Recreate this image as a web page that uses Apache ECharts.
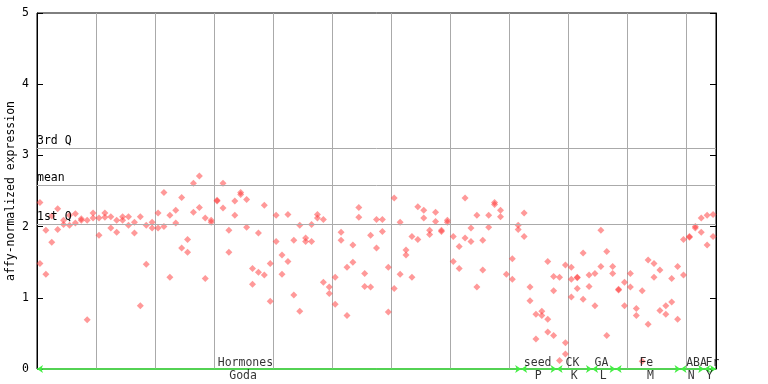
<!DOCTYPE html>
<html>
<head>
<meta charset="utf-8">
<script src="https://cdn.jsdelivr.net/npm/echarts@6/dist/echarts.min.js"></script>
<style>html,body{margin:0;padding:0;background:#fff}#c{width:768px;height:384px}</style>
</head>
<body>
<div id="c"></div>
<script>
// replicate values per sample index (0..114)
var rep1 = [2.34,1.95,2.15,2.25,2.09,2.16,2.18,2.11,2.09,2.19,2.12,2.19,2.14,2.09,2.14,2.14,2.06,2.14,2.02,2.06,
  2.19,2.48,2.16,2.23,2.41,1.82,2.61,2.71,2.12,2.09,2.37,2.61,1.95,2.36,2.48,2.38,1.41,1.91,2.30,1.48,
  2.16,1.60,2.17,1.81,2.02,1.84,2.03,2.17,2.10,1.15,1.29,1.92,1.43,1.74,2.27,1.34,1.88,2.10,2.10,1.43,
  2.40,2.06,1.67,1.86,2.28,2.23,1.95,2.20,1.95,2.09,1.86,1.72,2.40,1.98,2.16,1.81,2.16,2.34,2.23,1.33,
  1.55,2.02,2.19,1.15,0.77,0.81,1.51,1.30,1.29,1.46,1.43,1.29,1.63,1.32,1.34,1.95,1.65,1.44,1.12,1.22,
  1.34,0.85,1.10,1.53,1.48,1.39,0.89,1.27,1.44,1.82,1.86,2.00,2.12,2.16,2.17];
var rep2 = [1.48,1.33,1.78,1.96,2.03,2.02,2.05,2.09,0.69,2.12,1.88,2.13,1.98,1.92,2.09,2.02,1.91,0.89,1.47,1.98,
  1.98,2.00,1.29,2.05,1.70,1.64,2.20,2.27,1.27,2.06,2.36,2.26,1.64,2.16,2.45,1.99,1.19,1.36,1.32,0.95,
  1.79,1.33,1.51,1.04,0.81,1.79,1.79,2.12,1.22,1.06,0.91,1.81,0.75,1.50,2.13,1.16,1.15,1.70,1.93,0.80,
  1.13,1.33,1.60,1.29,1.82,2.12,1.89,2.07,1.93,2.06,1.51,1.41,1.84,1.79,1.15,1.39,1.99,2.31,2.14,null,
  1.26,1.96,1.86,0.96,0.42,0.75,0.70,1.10,0.12,0.37,1.26,1.28,0.98,1.16,0.89,1.44,0.47,1.34,1.11,0.89,
  1.15,0.75,0.11,0.63,1.29,0.82,0.77,0.94,0.70,1.32,1.85,1.98,1.92,1.74,1.86];
var rep3Index = [86, 87, 89, 90, 91];
var rep3 = [0.52, 0.47, 0.21, 1.01, 1.13];

// quartile reference lines
var refNames = ['3rd Q', 'mean', '1st Q'];
var refValues = [3.10, 2.58, 2.03];

// category groups along the x axis (sample index ranges)
var groupNames = ['Hormones', 'seed', 'CK', 'GA', 'Fe', 'ABA', 'Fr'];
var groupStart = [0, 82, 88, 94, 98, 109, 113];
var groupEnd = [82, 88, 94, 98, 109, 113, 115];
var groupLabelAt = [35.3, 84.8, 90.7, 95.6, 103.2, 111.7, 114.4];
var subNames = ['Goda', 'P', 'K', 'L', 'M', 'N', 'Y'];
var subLabelAt = [34.9, 84.9, 91.0, 95.9, 103.9, 110.8, 113.9];

var FONT = 'DejaVu Sans Mono';
var pts = [];
rep1.forEach(function (v, i) { if (v != null) pts.push([i + 0.5, v]); });
rep2.forEach(function (v, i) { if (v != null) pts.push([i + 0.5, v]); });
rep3.forEach(function (v, k) { pts.push([rep3Index[k] + 0.5, v]); });

var segs = groupStart.map(function (s, k) {
  return [{ coord: [s, 0] }, { coord: [groupEnd[k], 0] }];
});

var chart = echarts.init(document.getElementById('c'), null, { renderer: 'canvas' });
chart.setOption({
  animation: false,
  grid: { left: 37, right: 52, top: 13, bottom: 15, show: true, borderColor: '#000', borderWidth: 1,
          containLabel: false, outerBoundsMode: 'none' },
  xAxis: {
    type: 'value', min: 0, max: 115, interval: 10,
    axisLine: { show: false }, axisTick: { show: false }, axisLabel: { show: false },
    splitLine: { show: true, lineStyle: { color: '#aaaaaa', width: 1 } }
  },
  yAxis: [{
    type: 'value', min: 0, max: 5, interval: 1, position: 'left',
    axisLine: { show: true, lineStyle: { color: '#000' } },
    axisTick: { show: true, inside: true, length: 6, lineStyle: { color: '#000' } },
    axisLabel: { color: '#000', fontFamily: FONT, fontSize: 11.5, margin: 8 },
    splitLine: { show: false },
    name: 'affy-normalized expression', nameLocation: 'middle', nameGap: 20, nameMoveOverlap: false,
    nameTextStyle: { color: '#000', fontFamily: FONT, fontSize: 11.5 }
  }, {
    type: 'value', min: 0, max: 5, interval: 1, position: 'right',
    axisLine: { show: true, lineStyle: { color: '#000' } },
    axisTick: { show: true, inside: true, length: 6, lineStyle: { color: '#000' } },
    axisLabel: { show: false }, splitLine: { show: false }
  }],
  series: [{
    type: 'scatter', data: pts, symbol: 'diamond', symbolSize: 7,
    itemStyle: { color: 'rgba(255,60,60,0.65)' },
    markLine: {
      silent: true, symbol: 'none',
      lineStyle: { color: '#aaaaaa', width: 1, type: 'solid' },
      label: { position: 'insideStartTop', formatter: '{b}', color: '#000', fontFamily: FONT, fontSize: 11.5, distance: [0, 1], padding: 0 },
      data: refValues.map(function (v, k) { return { yAxis: v, name: refNames[k] }; })
    }
  }, {
    type: 'scatter', data: [],
    markLine: {
      silent: true, symbol: ['arrow', 'arrow'], symbolSize: [6, 6],
      lineStyle: { color: '#44ee44', width: 1.5, type: 'solid' },
      label: { show: false },
      data: segs
    }
  }, {
    type: 'scatter', symbolSize: 1, itemStyle: { color: 'rgba(0,0,0,0)' }, z: 5,
    data: groupNames.map(function (n, k) { return { value: [groupLabelAt[k], 0], name: n }; }),
    label: { show: true, position: 'inside', offset: [0, -6], formatter: '{b}', color: '#000', fontFamily: FONT, fontSize: 11.5 }
  }, {
    type: 'scatter', symbolSize: 1, itemStyle: { color: 'rgba(0,0,0,0)' }, z: 5,
    data: subNames.map(function (n, k) { return { value: [subLabelAt[k], 0], name: n }; }),
    label: { show: true, position: 'inside', offset: [0, 7], formatter: '{b}', color: '#000', fontFamily: FONT, fontSize: 11.5 }
  }]
});
</script>
</body>
</html>
